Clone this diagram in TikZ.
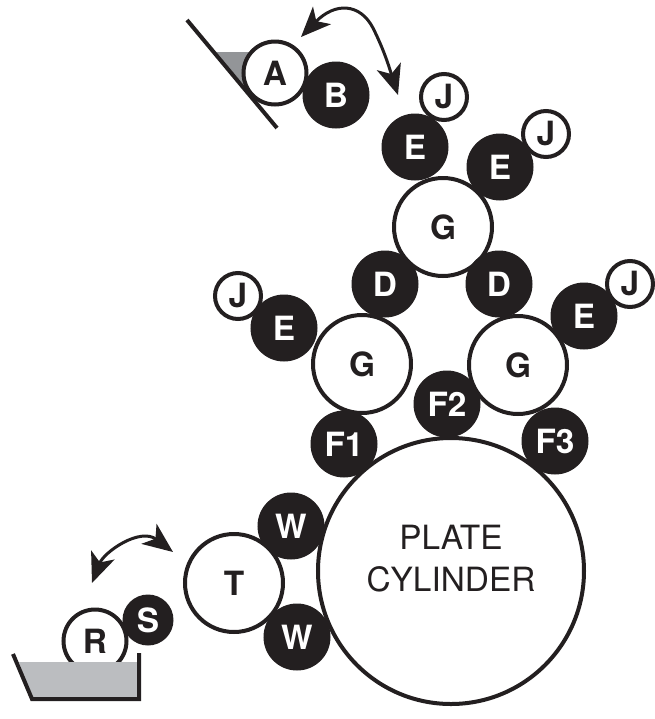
\documentclass[tikz,border=0pt]{standalone}
\usepackage{fontspec}
\setmainfont{TeX Gyre Heros}
\usetikzlibrary{arrows.meta}
\definecolor{inkgrey}{RGB}{35,31,32}
\definecolor{traygrey}{RGB}{187,189,192}
\definecolor{wedgegrey}{RGB}{147,149,152}
\tikzset{
  whiteroll/.style={circle, draw=inkgrey, line width=0.8mm, fill=white, inner sep=0pt,
    text=inkgrey, font=\fontsize{19}{19}\bfseries\selectfont},
  blackroll/.style={circle, fill=inkgrey, inner sep=0pt,
    text=white, font=\fontsize{19}{19}\bfseries\selectfont},
  bigroll/.style={whiteroll, minimum size=19.6mm},
  smallroll/.style={whiteroll, minimum size=9.2mm},
  darkroll/.style={blackroll, minimum size=13.4mm},
  swing/.style={inkgrey, line width=0.6mm, {Stealth[length=6mm,width=5mm,inset=1.6mm]}-{Stealth[length=6mm,width=5mm,inset=1.6mm]}},
}
\begin{document}
\begin{tikzpicture}[x=0.2mm, y=-0.2mm]
  \useasboundingbox (0,0) rectangle (654,719);

  % ink fountain at the top
  \fill[wedgegrey] (215,52) -- (250,52) -- (250,90) -- (243,84) -- cycle;
  \draw[inkgrey, line width=0.8mm] (187,20) -- (277,128);
  \node[whiteroll, minimum size=12.6mm] (rollA) at (275,73) {A};
  \node[darkroll] (rollB) at (336,95) {B};

  % upper group
  \node[smallroll] (jTop) at (444,97) {J};
  \node[darkroll] (eTop) at (415,147) {E};
  \node[darkroll] (eRight) at (500,167) {E};
  \node[smallroll] (jRight) at (546,134) {J};
  \node[bigroll] (gTop) at (443,227) {G};
  \node[darkroll] (dLeft) at (385,284) {D};
  \node[darkroll] (dRight) at (499,284) {D};

  % middle group
  \node[smallroll] (jLeft) at (238,296) {J};
  \node[darkroll] (eLeft) at (284,328) {E};
  \node[bigroll] (gLeft) at (362,364) {G};
  \node[bigroll] (gRight) at (518,365) {G};
  \node[darkroll] (eFar) at (584,316) {E};
  \node[smallroll] (jFar) at (630,284) {J};
  \node[darkroll] (fTwo) at (447,404) {F2};
  \node[darkroll] (fOne) at (344,444) {F1};
  \node[darkroll] (fThree) at (555,441) {F3};

  % plate and dampening
  \node[darkroll] (wTop) at (291,526) {W};
  \node[darkroll] (wBot) at (297,637) {W};
  \node[bigroll] (rollT) at (234,583) {T};
  \node[whiteroll, minimum size=53.2mm] (plate) at (451,571) {};
  \node[align=center, text=inkgrey, font=\fontsize{19}{24}\selectfont] (plateText) at (451,559) {PLATE\\CYLINDER};

  % water pan
  \node[whiteroll, minimum size=12.6mm] (rollR) at (95,641) {R};
  \node[blackroll, minimum size=10.2mm] (rollS) at (148,620) {S};
  \fill[traygrey] (19,662) -- (139,662) -- (139,699) -- (32,699) -- cycle;
  \draw[inkgrey, line width=0.8mm] (13,654) -- (32,699) -- (139,699) -- (139,653);

  % swing arrows
  \coordinate (swingAa) at (301,37);
  \coordinate (swingAb) at (398,95);
  \coordinate (swingRa) at (92,583);
  \coordinate (swingRb) at (173,552);
  \draw[swing] (swingAa) .. controls (335,2) and (360,3) .. (373,28) .. controls (385,52) and (390,70) .. (swingAb);
  \draw[swing] (swingRa) .. controls (104,552) and (140,527) .. (swingRb);
\end{tikzpicture}
\end{document}
